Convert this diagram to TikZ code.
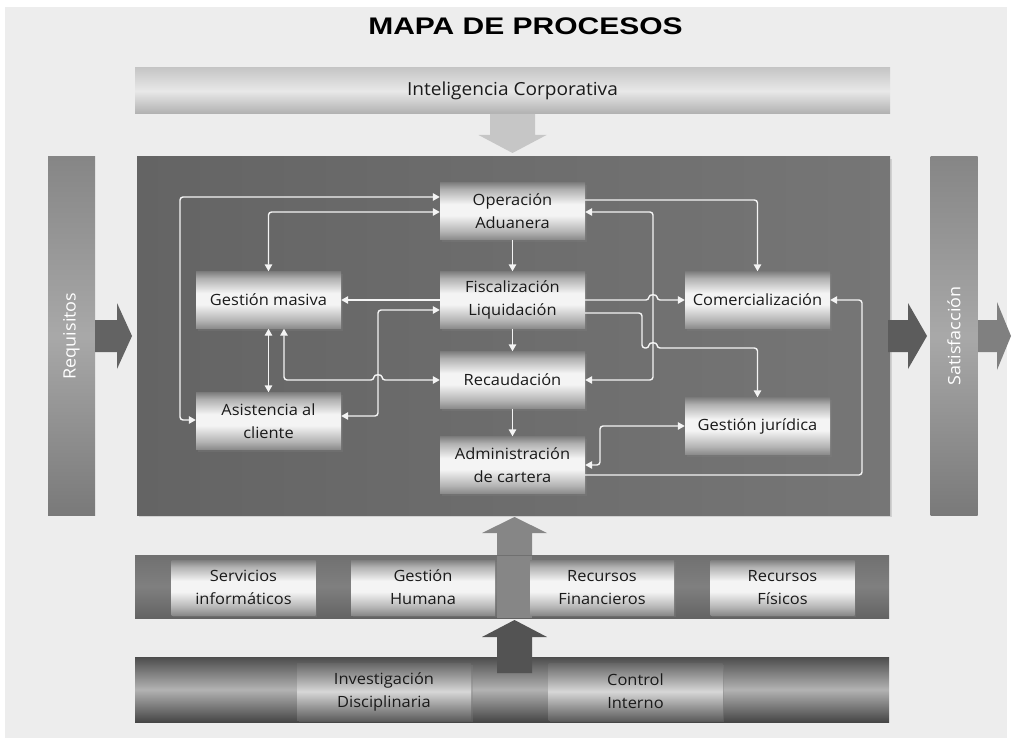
\documentclass[tikz,border=0pt]{standalone}
\usepackage{fontspec}
\setmainfont{Open Sans}[FakeStretch=1.06]
\newfontfamily\titlefont{Liberation Sans}[FakeStretch=1.25]
\usetikzlibrary{arrows.meta, shadows}

\definecolor{paper}{HTML}{EDEDED}
\definecolor{coreleft}{HTML}{646464}
\definecolor{coreright}{HTML}{767676}
\definecolor{boxtext}{HTML}{1A1A1A}
\definecolor{linewhite}{HTML}{F4F4F4}
\definecolor{pbot}{HTML}{8A8A8A}
\definecolor{plow}{HTML}{B4B4B4}
\definecolor{pwhite}{HTML}{F4F4F4}
\definecolor{phigh}{HTML}{B0B0B0}
\definecolor{ptop}{HTML}{7E7E7E}
\pgfdeclareverticalshading{procshade}{100bp}{color(0bp)=(pbot); color(25bp)=(pbot); color(32bp)=(plow);
  color(46bp)=(pwhite); color(56bp)=(pwhite); color(69bp)=(phigh); color(75bp)=(ptop); color(100bp)=(ptop)}

\tikzset{
  proc/.style={minimum width=145pt, minimum height=57pt, inner sep=2pt, align=center,
    shading=procshade, text=boxtext, font=\fontsize{15.5}{23}\selectfont,
    drop shadow={opacity=0.3, shadow xshift=1.5pt, shadow yshift=-2pt}},
  darkproc/.style={proc, top color=gray!80!black, bottom color=gray!75!black, middle color=pwhite!88!black},
  sidebar/.style={rotate=90, minimum width=358pt, minimum height=47pt, inner sep=0pt,
    top color=gray!95, bottom color=gray!95!black, middle color=gray!68, text=white,
    font=\fontsize{17}{20}\selectfont},
  flow/.style={draw=linewhite, line width=1.4pt, rounded corners=3pt}
}

\begin{document}
\begin{tikzpicture}[x=1pt, y=-1pt, >={Triangle[length=7pt,width=7.5pt]}]
  \useasboundingbox (0,0) rectangle (1012,741);
  \fill[white] (0,0) rectangle (1012,741);
  \fill[paper] (5,7) rectangle (1007,738);

  % title and top band
  \node[font=\titlefont\bfseries\fontsize{24}{26}\selectfont] (title) at (525.5,26.5) {MAPA DE PROCESOS};
  \node[minimum width=755pt, minimum height=46pt, inner sep=0pt, top color=gray!45, bottom color=gray!62, middle color=gray!18,
    text=boxtext, font=\fontsize{18}{20}\selectfont] (intel) at (512.5,91) {Inteligencia Corporativa};
  \fill[gray!45] (490,114) -- (535,114) -- (535,135) -- (546.5,135) -- (512.5,153) -- (478.5,135) -- (490,135) -- cycle;

  % side bars
  \node[sidebar] (req) at (71.5,336) {Requisitos};
  \node[sidebar] (sat) at (954,336) {Satisfacción};
  \node[minimum width=753pt, minimum height=358pt, inner sep=0pt, left color=coreleft, right color=coreright,
    drop shadow={opacity=0.25, shadow xshift=2pt, shadow yshift=-2pt}] (core) at (513.5,336) {};
  \fill[gray!78!black] (95,320) -- (117,320) -- (117,303) -- (132,336) -- (117,369) -- (117,352) -- (95,352) -- cycle;
  \fill[gray!72!black] (888,320) -- (908,320) -- (908,303) -- (927,336) -- (908,369) -- (908,352) -- (888,352) -- cycle;
  \fill[gray!100] (978,320) -- (997,320) -- (997,302) -- (1011,336) -- (997,370) -- (997,352) -- (978,352) -- cycle;

  % process boxes
  \node[proc] (opera) at (512.5,211) {Operación\\Aduanera};
  \node[proc] (fisc) at (512.5,300) {Fiscalización\\Liquidación};
  \node[proc] (recau) at (512.5,380) {Recaudación};
  \node[proc] (admin) at (512.5,465) {Administración\\de cartera};
  \node[proc] (gmas) at (268.5,300) {Gestión masiva};
  \node[proc] (asist) at (268.5,421) {Asistencia al\\cliente};
  \node[proc] (comer) at (757.5,300) {Comercialización};
  \node[proc] (gjur) at (757.5,426) {Gestión jurídica};

  % connectors
  \draw[flow, <->] (opera.west |- 0,197) -| (180,420) -- (asist.west |- 0,420);
  \draw[flow, <->] (gmas.north) |- (opera.west |- 0,212);
  \draw[flow, ->] (fisc.west) -- (gmas.east);
  \draw[flow, ->] (fisc.east) -- (649,300) .. controls (649,294) and (657,294) .. (657,300) -- (comer.west);
  \draw[flow, <->] (asist.east |- 0,416) -| (378,310) -- (fisc.west |- 0,310);
  \draw[flow, <->] (gmas.south -| 284,0) -- (284,380) -- (374,380) .. controls (374,374) and (382,374) .. (382,380) -- (recau.west);
  \draw[flow, <->] (gmas.south) -- (asist.north);
  \draw[flow, ->] (opera.south) -- (fisc.north);
  \draw[flow, ->] (fisc.south) -- (recau.north);
  \draw[flow, ->] (recau.south) -- (admin.north);
  \draw[flow, ->] (opera.east |- 0,200) -| (comer.north);
  \draw[flow, <->] (opera.east |- 0,212) -| (653,380) -- (recau.east);
  \draw[flow, ->] (fisc.east |- 0,313) -| (642,348) -- (649,348) .. controls (649,342) and (657,342) .. (657,348) -| (gjur.north);
  \draw[flow, <->] (admin.east |- 0,465) -| (600,426) -- (gjur.west);
  \draw[flow, ->] (admin.east |- 0,475) -| (862,300) -- (comer.east);

  % support band
  \fill[gray!95] (497,618) -- (497,533) -- (482,533) -- (514.5,517) -- (547,533) -- (532,533) -- (532,618) -- cycle;
  \node[minimum width=754pt, minimum height=63pt, inner sep=0pt, top color=gray!88!black, bottom color=gray!78!black,
    middle color=gray!100] (support) at (512,586.5) {};
  \fill[gray!95] (497,556) rectangle (532,618);
  \node[proc, minimum width=144pt, minimum height=55pt] (servi) at (243.5,587.5) {Servicios\\informáticos};
  \node[proc, minimum width=144pt, minimum height=55pt] (human) at (423,587.5) {Gestión\\Humana};
  \node[proc, minimum width=144pt, minimum height=55pt] (finan) at (602,587.5) {Recursos\\Financieros};
  \node[proc, minimum width=144pt, minimum height=55pt] (fisic) at (782.5,587.5) {Recursos\\Físicos};

  % control band
  \node[minimum width=754pt, minimum height=65pt, inner sep=0pt, top color=gray!60!black, bottom color=gray!55!black,
    middle color=gray!60] (control) at (512,689.5) {};
  \node[darkproc, minimum width=174pt] (invest) at (384,691.5) {Investigación\\Disciplinaria};
  \node[darkproc, minimum width=174pt] (cinter) at (635.5,691.5) {Control\\Interno};
  \fill[gray!65!black] (497,673) -- (497,637) -- (482,637) -- (514.5,620) -- (547,637) -- (532,637) -- (532,673) -- cycle;
\end{tikzpicture}
\end{document}
